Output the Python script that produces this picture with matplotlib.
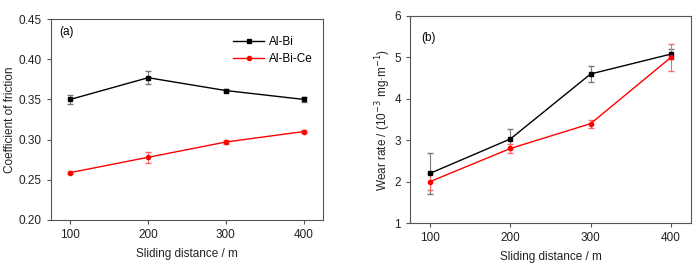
import numpy as np
import matplotlib.pyplot as plt

plt.rcParams['font.family'] = ['Liberation Sans', 'DejaVu Sans']

distance = np.array([100, 200, 300, 400])

cof_bi = np.array([0.350, 0.377, 0.361, 0.350])
cof_bi_err = np.array([0.006, 0.008, 0.002, 0.003])
cof_ce = np.array([0.259, 0.278, 0.297, 0.310])
cof_ce_err = np.array([0.002, 0.007, 0.003, 0.002])

wear_bi = np.array([2.2, 3.03, 4.6, 5.08])
wear_bi_err = np.array([0.5, 0.25, 0.2, 0.12])
wear_ce = np.array([2.0, 2.8, 3.4, 5.0])
wear_ce_err = np.array([0.2, 0.1, 0.1, 0.33])

fig = plt.figure(figsize=(7, 2.65), dpi=100)
ax1 = fig.add_axes([51/700, 1-220/265, 272/700, 201/265])
ax2 = fig.add_axes([410/700, 1-223/265, 281/700, 207/265])

def style(ax):
    for s in ax.spines.values():
        s.set_color('#555555')
        s.set_linewidth(0.8)
    ax.tick_params(direction='out', length=3, width=0.8, color='#555555',
                   labelsize=8.5, labelcolor='#222222')
    ax.set_xlim(75, 425)
    ax.set_xticks(distance)
    ax.set_xlabel('Sliding distance / m', fontsize=8.5, color='#222222', labelpad=5)

h1 = ax1.errorbar(distance, cof_bi, yerr=cof_bi_err, color='black', marker='s', ms=3.5,
                  lw=1, ecolor='#777777', elinewidth=0.8, capsize=2)
h2 = ax1.errorbar(distance, cof_ce, yerr=cof_ce_err, color='red', marker='o', ms=3,
                  lw=1, ecolor='#ff6666', elinewidth=0.8, capsize=2)
style(ax1)
ax1.set_ylim(0.20, 0.45)
ax1.set_yticks(np.arange(0.20, 0.451, 0.05))
ax1.set_yticklabels(['%.2f' % v for v in np.arange(0.20, 0.451, 0.05)])
ax1.set_ylabel('Coefficient of friction', fontsize=8.5, color='#222222', labelpad=2)
ax1.text(0.03, 0.92, '(a)', transform=ax1.transAxes, fontsize=8.5)
ax1.legend([h1[0], h2[0]], ['Al-Bi', 'Al-Bi-Ce'], loc='upper right',
           bbox_to_anchor=(1.0, 0.97), frameon=False,
           fontsize=8.5, handlelength=2.6, handletextpad=0.4, labelspacing=0.45)

ax2.errorbar(distance, wear_bi, yerr=wear_bi_err, color='black', marker='s', ms=3.5,
             lw=1, ecolor='#777777', elinewidth=0.8, capsize=2)
ax2.errorbar(distance, wear_ce, yerr=wear_ce_err, color='red', marker='o', ms=3,
             lw=1, ecolor='#ff6666', elinewidth=0.8, capsize=2)
style(ax2)
ax2.set_ylim(1, 6)
ax2.set_yticks([1, 2, 3, 4, 5, 6])
ax2.set_ylabel('Wear rate / (10$^{-3}$ mg·m$^{-1}$)', fontsize=8.5, color='#222222', labelpad=1)
ax2.text(0.04, 0.88, '(b)', transform=ax2.transAxes, fontsize=8.5)

fig.savefig('out.png', dpi=100)
